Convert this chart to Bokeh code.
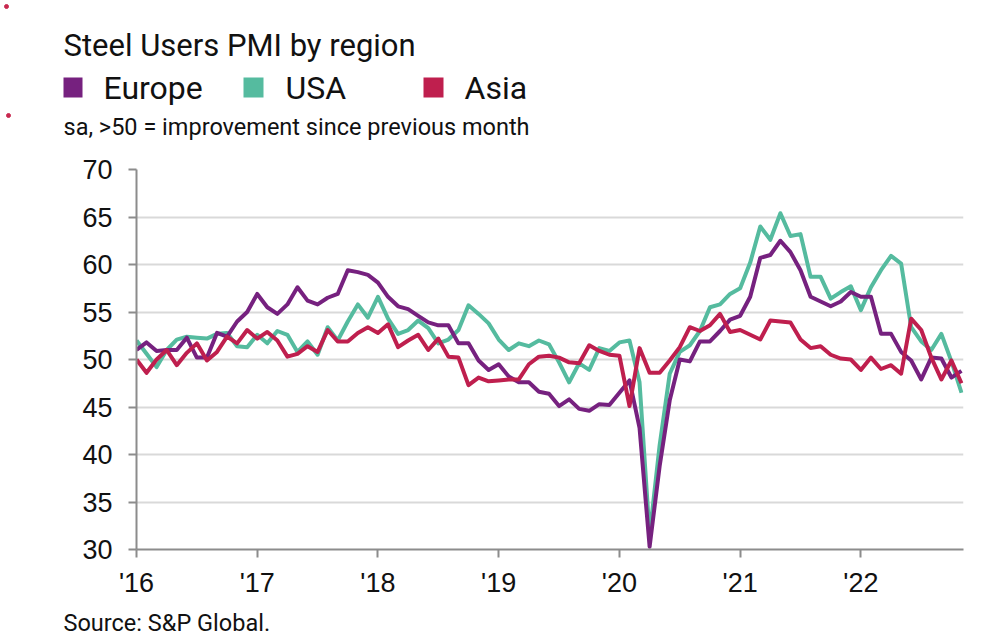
from bokeh.plotting import figure
from bokeh.layouts import column
from bokeh.models import Range1d, FixedTicker
from bokeh.core.properties import value
from bokeh.embed import file_html
from bokeh.resources import INLINE

# Monthly readings, Jan 2016 .. Nov 2022 (index 0 = Jan 2016)
months = list(range(83))

europe = [51.0, 51.8, 50.9, 51.0, 51.0, 52.3, 50.2, 50.2, 52.8, 52.4, 54.0, 55.0,
          56.9, 55.5, 54.8, 55.8, 57.6, 56.2, 55.8, 56.5, 56.9, 59.4, 59.2, 58.9,
          58.1, 56.6, 55.6, 55.3, 54.6, 53.9, 53.6, 53.6, 51.7, 51.7, 49.9, 48.9,
          49.5, 48.2, 47.6, 47.6, 46.6, 46.4, 45.1, 45.8, 44.8, 44.6, 45.3, 45.2,
          46.5, 47.8, 42.8, 30.3, 38.8, 45.7, 50.0, 49.8, 51.9, 51.9, 53.0, 54.2,
          54.6, 56.6, 60.7, 61.0, 62.5, 61.3, 59.4, 56.6, 56.1, 55.6, 56.1, 57.1,
          56.6, 56.6, 52.7, 52.7, 50.8, 49.9, 47.9, 50.2, 50.1, 48.1, 48.8]

usa = [52.0, 50.6, 49.2, 51.0, 52.1, 52.4, 52.3, 52.2, 52.7, 52.8, 51.4, 51.3,
       52.6, 51.7, 53.0, 52.6, 50.8, 51.9, 50.5, 53.4, 52.0, 54.0, 55.8, 54.4,
       56.6, 54.3, 52.7, 53.1, 54.1, 53.3, 51.7, 52.1, 53.1, 55.7, 54.8, 53.8,
       52.1, 51.0, 51.7, 51.4, 52.0, 51.6, 49.7, 47.6, 49.6, 48.9, 51.2, 50.9,
       51.8, 52.0, 47.6, 31.5, 41.0, 48.5, 50.8, 51.5, 53.0, 55.5, 55.8, 56.9,
       57.5, 60.2, 64.0, 62.6, 65.4, 63.0, 63.2, 58.7, 58.7, 56.4, 57.1, 57.7,
       55.2, 57.6, 59.4, 60.9, 60.1, 53.4, 51.9, 51.0, 52.7, 49.8, 46.5]

asia = [50.0, 48.6, 50.0, 51.0, 49.4, 50.7, 51.7, 49.9, 50.8, 52.4, 51.7, 53.1,
        52.2, 52.9, 52.0, 50.3, 50.6, 51.4, 50.8, 53.1, 51.9, 51.9, 52.8, 53.4,
        52.8, 53.7, 51.3, 52.0, 52.6, 51.0, 52.2, 50.3, 50.2, 47.3, 48.1, 47.7,
        47.8, 47.9, 47.9, 49.5, 50.3, 50.4, 50.2, 49.7, 49.6, 51.5, 50.9, 50.5,
        50.4, 45.1, 51.2, 48.6, 48.6, 49.9, 51.3, 53.4, 53.0, 53.6, 54.8, 52.9,
        53.1, 52.6, 52.1, 54.1, 54.0, 53.9, 52.1, 51.2, 51.4, 50.5, 50.1, 50.0,
        48.9, 50.2, 49.0, 49.4, 48.5, 54.3, 53.1, 50.2, 47.9, 49.9, 47.5]

year_ticks = [0, 12, 24, 36, 48, 60, 72]
year_labels = ["'16", "'17", "'18", "'19", "'20", "'21", "'22"]
y_ticks = [30, 35, 40, 45, 50, 55, 60, 65, 70]

series_names = ["Europe", "USA", "Asia"]
series_colors = ["#76217f", "#55bb9f", "#bf1f4e"]

title_text = "Steel Users PMI by region"
subtitle_text = "sa, >50 = improvement since previous month"
source_text = "Source: S&P Global."

TEXT_FONT = "Roboto"
TICK_FONT = "Liberation Sans"
INK = "#111111"

W = 1000
HEAD_H, MAIN_H, FOOT_H = 155, 450, 38


def blank(height):
    """A figure whose data space equals its pixel space (y grows downward)."""
    f = figure(width=W, height=height, output_backend="svg", toolbar_location=None,
               x_range=Range1d(0, W), y_range=Range1d(height, 0),
               min_border=0, min_border_left=0, min_border_right=0,
               min_border_top=0, min_border_bottom=0)
    f.axis.visible = False
    f.grid.visible = False
    f.outline_line_color = None
    f.background_fill_color = "white"
    f.border_fill_color = "white"
    f.frame_align = False
    return f


# ---- header: title, legend, subtitle
head = blank(HEAD_H)
head.scatter(x=[6, 8], y=[6, 115], size=4, color="#c8284f")
head.text(x=[63], y=[45], text=[title_text], text_font=value(TEXT_FONT),
          text_font_size="31px", text_color=INK, text_baseline="middle")
head.quad(left=[63, 243, 423], right=[82, 263, 443], top=[77, 77, 77],
          bottom=[97, 97, 97], fill_color=series_colors, line_color=None)
head.text(x=[103, 285, 464], y=[87, 87, 87], text=series_names,
          text_font=value(TEXT_FONT), text_font_size="32px", text_color=INK,
          text_baseline="middle")
head.text(x=[63], y=[126], text=[subtitle_text], text_font=value(TEXT_FONT),
          text_font_size="23.5px", text_color=INK, text_baseline="middle")

# ---- main chart
p = figure(width=W, height=MAIN_H, output_backend="svg", toolbar_location=None,
           x_range=Range1d(0, 82.2), y_range=Range1d(30, 70),
           min_border_left=136, min_border_right=37,
           min_border_top=14, min_border_bottom=56)
p.frame_align = False
p.outline_line_color = None
p.background_fill_color = "white"
p.border_fill_color = "white"

for ax in (p.xaxis[0], p.yaxis[0]):
    ax.axis_line_color = "#8c8c8c"
    ax.axis_line_width = 2
    ax.major_tick_line_color = "#8c8c8c"
    ax.major_tick_line_width = 2
    ax.major_tick_in = 0
    ax.major_tick_out = 8
    ax.minor_tick_line_color = None
    ax.major_label_text_font = TICK_FONT
    ax.major_label_text_font_size = "27px"
    ax.major_label_text_color = INK

p.xaxis.ticker = FixedTicker(ticks=year_ticks)
p.xaxis.major_label_overrides = {t: s for t, s in zip(year_ticks, year_labels)}
p.xaxis.major_label_standoff = 10
p.yaxis.ticker = FixedTicker(ticks=y_ticks)
p.yaxis.major_label_standoff = 16

p.xgrid.grid_line_color = None
p.ygrid.ticker = FixedTicker(ticks=y_ticks)
p.ygrid.grid_line_color = "#d9d9d9"
p.ygrid.grid_line_width = 2

# USA underneath, Asia on top
for ys, c in ((usa, series_colors[1]), (europe, series_colors[0]), (asia, series_colors[2])):
    p.line(months, ys, line_color=c, line_width=4, line_join="round")

# ---- footer: source note
foot = blank(FOOT_H)
foot.text(x=[63], y=[622 - HEAD_H - MAIN_H], text=[source_text],
          text_font=value(TEXT_FONT), text_font_size="23.5px", text_color=INK,
          text_baseline="middle")

layout = column(head, p, foot, spacing=0)
open("out.html", "w").write(file_html(layout, INLINE))
